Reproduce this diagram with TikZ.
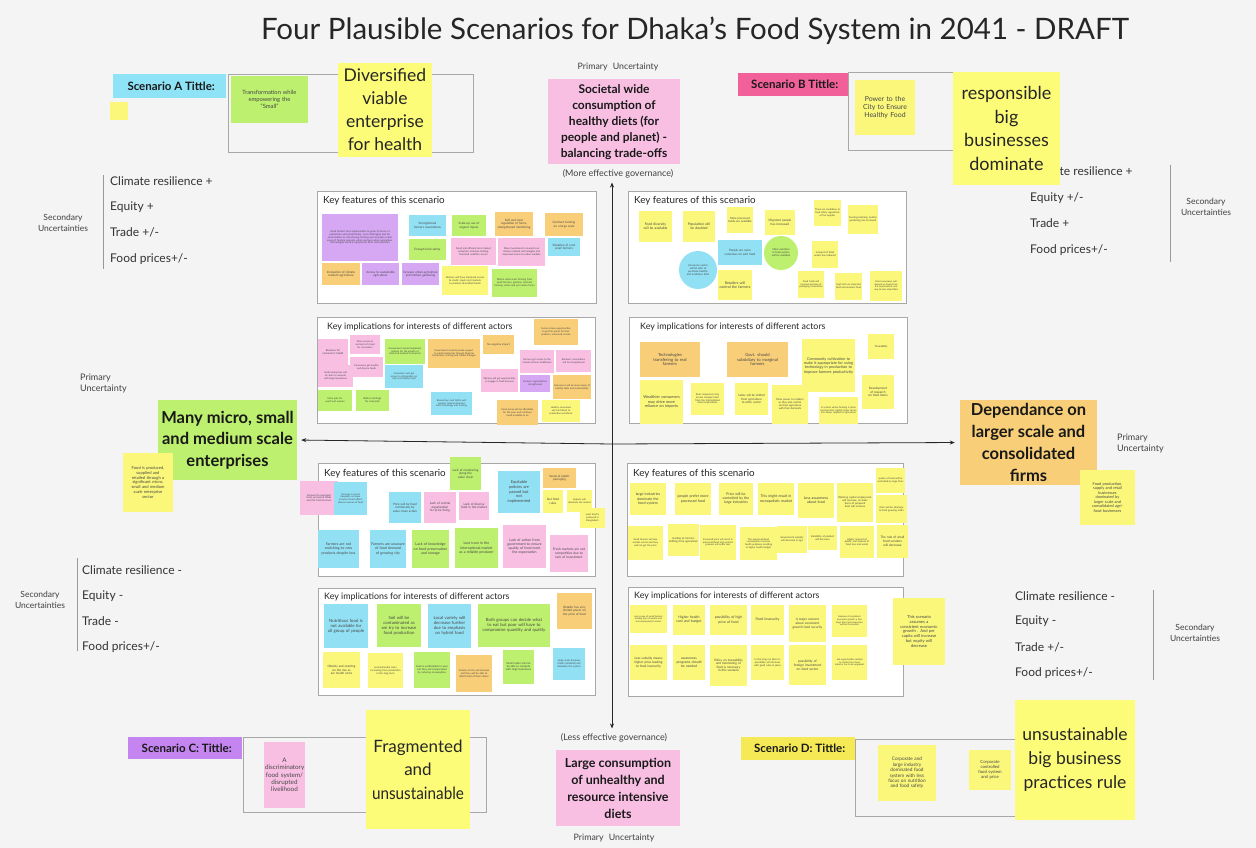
\documentclass[tikz,border=0pt]{standalone}
\usepackage{fontspec}
\setmainfont{Lato}
\usetikzlibrary{arrows.meta}
\definecolor{bg}{HTML}{F4F4F4}
\definecolor{stY}{HTML}{FAF77A}
\definecolor{bigY}{HTML}{FDFC78}
\definecolor{stG}{HTML}{BDF06E}
\definecolor{stC}{HTML}{92E0F4}
\definecolor{stP}{HTML}{F8BFE3}
\definecolor{stO}{HTML}{F8CE78}
\definecolor{stV}{HTML}{D6A8F3}
\definecolor{labA}{HTML}{8EE3F7}
\definecolor{labB}{HTML}{F2609A}
\definecolor{labC}{HTML}{C585F0}
\definecolor{labD}{HTML}{F5EA55}
\definecolor{frameC}{HTML}{A8A8A8}
\tikzset{
  stk/.style={draw=none,inner sep=1pt,align=center,text=black!72},
  big/.style={draw=none,inner sep=0pt,align=center,text=black!85},
  panel/.style={draw=frameC,fill=white,line width=0.8pt,inner sep=0pt},
  sframe/.style={draw=frameC,line width=0.9pt,inner sep=0pt},
  ptitle/.style={anchor=north west,inner sep=0pt,text=black!85},
  lab/.style={anchor=north west,inner sep=0pt,font=\fontsize{11.5}{13}\bfseries,text=black!90},
  sec/.style={anchor=west,inner sep=0pt,font=\fontsize{12}{14}\selectfont,text=black!80},
  secl/.style={inner sep=0pt,align=center,font=\fontsize{8.5}{11}\selectfont,text=black!75},
  prim/.style={inner sep=0pt,align=center,font=\fontsize{8.5}{11}\selectfont,text=black!75},
  ax/.style={draw=black!85,line width=0.8pt,-{Stealth[length=5pt,width=4pt]}},
  vbar/.style={draw=black!40,line width=0.8pt},
}
\newcommand\stk[8]{\node[stk,fill=#2,minimum width=#5pt,minimum height=#6pt,text width=#5pt-2pt,font=\linespread{1.15}\fontsize{#7}{#7}\selectfont] (#1) at ({#3+#5/2},{#4+#6/2}) {#8};}
\newcommand\stc[6]{\node[stk,circle,fill=#2,minimum size=#5pt,text width=#5pt*0.62,font=\linespread{1.15}\fontsize{2.6}{2.6}\selectfont] (#1) at (#3,#4) {#6};}
\begin{document}
\hyphenpenalty=10000 \exhyphenpenalty=10000
\begin{tikzpicture}[x=1pt,y=-1pt]
\fill[bg] (0,0) rectangle (1256,848);
\useasboundingbox (0,0) rectangle (1256,848);

% title
\node[inner sep=0pt,font=\fontsize{29.5}{34}\selectfont,text=black!85] (title) at (695,31) {Four Plausible Scenarios for Dhaka's Food System in 2041 - DRAFT};

% ---------- secondary uncertainties ----------
\node[sec] (sa1) at (110,181) {Climate resilience +};
\node[sec] (sa2) at (110,207) {Equity +};
\node[sec] (sa3) at (110,232) {Trade +/-};
\node[sec] (sa4) at (110,259) {Food prices+/-};
\draw[vbar] (103,175) -- (103,269);
\node[secl] (sal) at (63,223) {Secondary\\Uncertainties};

\node[sec] (sb1) at (1030,171) {Climate resilience +};
\node[sec] (sb2) at (1030,198) {Equity +/-};
\node[sec] (sb3) at (1030,223) {Trade +};
\node[sec] (sb4) at (1030,250) {Food prices+/-};
\draw[vbar] (1170,165) -- (1170,262);
\node[secl] (sbl) at (1206,207) {Secondary\\Uncertainties};

\node[sec] (sc1) at (82,570) {Climate resilience -};
\node[sec] (sc2) at (82,596) {Equity -};
\node[sec] (sc3) at (82,621) {Trade -};
\node[sec] (sc4) at (82,647) {Food prices+/-};
\draw[vbar] (77,558) -- (77,651);
\node[secl] (scl) at (40,600) {Secondary\\Uncertainties};

\node[sec] (sd1) at (1015,596) {Climate resilience -};
\node[sec] (sd2) at (1015,621) {Equity -};
\node[sec] (sd3) at (1015,647) {Trade +/-};
\node[sec] (sd4) at (1015,673) {Food prices+/-};
\draw[vbar] (1153,590) -- (1153,680);
\node[secl] (sdl) at (1195,633) {Secondary\\Uncertainties};

% ---------- scenario titles ----------
\node[lab,fill=labA,minimum width=113pt,minimum height=24pt] (la) at (113,74) {\hspace{3pt}Scenario A Tittle:};
\node[sframe,anchor=north west,minimum width=245pt,minimum height=78pt] (fa) at (228,74) {};
\stk{ya}{stY}{110}{102}{18}{18}{3}{}
\stk{ta}{stG}{231}{76}{77}{47}{5.8}{Transformation while\\empowering the\\``Small''}
\node[big,fill=bigY,minimum width=94pt,minimum height=94pt,font=\fontsize{17.5}{23}\selectfont] (ba) at (385,110) {Diversified\\viable\\enterprise\\for health};

\node[lab,fill=labB,minimum width=110pt,minimum height=23pt] (lb) at (738,73) {\hspace{3pt}Scenario B Tittle:};
\node[sframe,anchor=north west,minimum width=168pt,minimum height=78pt] (fb) at (848,72) {};
\stk{tb}{stY}{855}{80}{60}{55}{6.9}{Power to the\\City to Ensure\\Healthy Food}
\node[big,fill=bigY,minimum width=107pt,minimum height=113pt,font=\fontsize{18}{23.5}\selectfont] (bb) at (1006.5,128.5) {responsible\\big\\businesses\\dominate};

\node[lab,fill=labC,minimum width=114pt,minimum height=22pt] (lc) at (128,737) {\hspace{3pt}Scenario C: Tittle:};
\node[sframe,anchor=north west,minimum width=243pt,minimum height=75pt] (fc) at (243,737) {};
\stk{tc}{stP}{264}{742}{41}{66}{6.3}{A\\discriminatory\\food system/\\disrupted\\livelihood}
\node[big,fill=bigY,minimum width=104pt,minimum height=119pt,font=\fontsize{17}{23.5}\selectfont] (bc) at (418,769.5) {Fragmented\\and\\\scalebox{0.9}[1]{unsustainable}};

\node[lab,fill=labD,minimum width=114pt,minimum height=23pt] (ld) at (741,737) {\hspace{3pt}Scenario D: Tittle:};
\node[sframe,anchor=north west,minimum width=161pt,minimum height=77pt] (fd) at (855,739) {};
\stk{td}{stY}{878}{745}{58}{56}{4.7}{Corporate and\\large industry\\dominated food\\system with less\\focus on nutrition\\and food safety}
\stk{td2}{stY}{969}{750}{42}{40}{4.3}{Corporate\\controlled\\food system\\and price}
\node[big,fill=bigY,minimum width=120pt,minimum height=120pt,font=\fontsize{17.5}{24}\selectfont] (bd) at (1075,760) {unsustainable\\big business\\practices rule};

% ---------- primary uncertainties ----------
\node[prim,font=\fontsize{8.8}{11}\selectfont] (pt) at (618,67) {Primary\hspace{3pt} Uncertainty};
\node[big,fill=stP,minimum width=132pt,minimum height=85pt,font=\fontsize{12}{16}\bfseries,text=black!90] (top) at (614,122) {Societal wide\\consumption of\\healthy diets (for\\people and planet) -\\balancing trade-offs};
\node[prim,font=\fontsize{9}{11}\selectfont] (gtop) at (618,174) {(More effective governance)};

\node[prim,font=\fontsize{9}{11}\selectfont] (gbot) at (614,738) {(Less effective governance)};
\node[big,fill=stP,minimum width=124pt,minimum height=76pt,font=\fontsize{12.5}{17}\bfseries,text=black!90] (bot) at (618,788) {Large consumption\\of unhealthy and\\resource intensive\\diets};
\node[prim,font=\fontsize{8.8}{11}\selectfont] (pb) at (614,838) {Primary\hspace{3pt} Uncertainty};

\node[prim,align=left,anchor=west,font=\fontsize{9}{11}\selectfont] (pl) at (80,383) {Primary\\Uncertainty};
\node[big,fill=stG,minimum width=139pt,minimum height=80pt,font=\fontsize{16.5}{21.5}\bfseries,text=black!90] (left) at (227.5,440) {Many micro, small\\and medium scale\\enterprises};
\stk{nl}{stY}{123}{453}{50}{59}{4.1}{Food is produced,\\supplied and\\retailed through a\\significant micro,\\small and medium\\scale enterprise\\sector}

\node[big,fill=stO,minimum width=137pt,minimum height=85pt,font=\fontsize{16.5}{22}\bfseries,text=black!90] (right) at (1028.5,442.5) {Dependance on\\larger scale and\\consolidated\\firms};
\node[prim,align=left,anchor=west,font=\fontsize{9}{11}\selectfont] (pr) at (1117,443) {Primary\\Uncertainty};
\stk{nr}{stY}{1080}{470}{55}{55}{3.9}{Food production,\\supply and retail\\businesses\\dominated by\\larger scale and\\consolidated agri-\\food businesses}

% ---------- panels ----------
\node[panel,anchor=north west,minimum width=279pt,minimum height=112pt] (p1) at (317,191) {};
\node[ptitle,font=\fontsize{9.8}{11}\selectfont] at (323,196) {Key features of this scenario};
\node[panel,anchor=north west,minimum width=278pt,minimum height=106pt] (p2) at (317,317) {};
\node[ptitle,font=\fontsize{8.9}{10}\selectfont] at (327,323) {Key implications for interests of different actors};
\node[panel,anchor=north west,minimum width=278pt,minimum height=112pt] (p3) at (628,191) {};
\node[ptitle,font=\fontsize{9.8}{11}\selectfont] at (634,196) {Key features of this scenario};
\node[panel,anchor=north west,minimum width=278pt,minimum height=106pt] (p4) at (629,317) {};
\node[ptitle,font=\fontsize{8.9}{10}\selectfont] at (640,323) {Key implications for interests of different actors};
\node[panel,anchor=north west,minimum width=277pt,minimum height=113pt] (p5) at (318,463) {};
\node[ptitle,font=\fontsize{9.8}{11}\selectfont] at (324,469) {Key features of this scenario};
\node[panel,anchor=north west,minimum width=277pt,minimum height=107pt] (p6) at (318,588) {};
\node[ptitle,font=\fontsize{8.9}{10}\selectfont] at (324,593) {Key implications for interests of different actors};
\node[panel,anchor=north west,minimum width=276pt,minimum height=113pt] (p7) at (627,463) {};
\node[ptitle,font=\fontsize{9.8}{11}\selectfont] at (633,469) {Key features of this scenario};
\node[panel,anchor=north west,minimum width=275pt,minimum height=109pt] (p8) at (628,587) {};
\node[ptitle,font=\fontsize{8.9}{10}\selectfont] at (634,592) {Key implications for interests of different actors};

% ---------- Q1 features ----------
\stk{a1}{stV}{322}{214}{76}{47}{2.5}{Small farmers face opportunities to grow (in terms of production and productivity). Less challenging task for small holders as risk-sharing, farming and crop plan under areas of farming promote urban and peri-urban agriculture. Technologies (vertical equipment) Farm mechanization}
\stk{a2}{stC}{409}{215}{37}{21}{3}{Strengthened farmers associations}
\stk{a3}{stG}{452}{215}{34}{21}{3}{Scale-up use of organic inputs}
\stk{a4}{stO}{495}{212}{38}{24}{3}{Soft and clear regulation of farms, strengthened monitoring}
\stk{a5}{stO}{545}{213}{38}{23}{3}{Contract farming on a large scale}
\stk{a6}{stG}{409}{239}{37}{21}{3}{Enough food safety}
\stk{a7}{stP}{451}{238}{45}{27}{2.5}{Small and efficient local market networks; inclusive lending; food and nutrition secure}
\stk{a8}{stP}{498}{238}{47}{28}{2.5}{More investment in research on climate resilient technologies and improved access to urban markets}
\stk{a9}{stC}{548}{238}{32}{18}{3}{Situation of rural small farmers}
\stk{a10}{stO}{322}{263}{38}{22}{3}{Innovation of climate resilient agriculture}
\stk{a11}{stV}{362}{263}{37}{22}{3}{Access to sustainable agriculture}
\stk{a12}{stV}{402}{263}{37}{22}{3}{Increase urban agriculture and kitchen gardening}
\stk{a13}{stY}{442}{266}{46}{29}{2.5}{Farmers will have improved access to credit, inputs and markets to produce diversified foods}
\stk{a14}{stG}{492}{269}{45}{28}{2.5}{Where small-scale farming from small farmers, gardens, contract farming, urban and peri urban farms}

% ---------- Q1 implications ----------
\stk{b1}{stP}{318}{339}{30}{26}{2.6}{Business for consumers' health}
\stk{b2}{stP}{350}{335}{30}{19}{2.4}{More access of nutrient-rich food for consumers}
\stk{b3}{stG}{385}{339}{40}{25}{2.4}{Government should implement policies for the growth of small and medium enterprises}
\stk{b4}{stO}{428}{339}{52}{29}{2.4}{Government should provide support to small enterprises through financial institutions, training and market linkages}
\stk{b5}{stO}{483}{335}{31}{19}{2.6}{No negative impact}
\stk{b6}{stO}{534}{319}{44}{26}{2.4}{Farmers have opportunities to get fair prices for their products, enhanced income}
\stk{b7}{stP}{350}{357}{33}{20}{2.4}{Consumers get healthy and diverse foods}
\stk{b8}{stP}{318}{365}{35}{22}{2.4}{Small enterprises will be able to compete with large businesses}
\stk{b9}{stC}{385}{365}{38}{23}{2.4}{Consumers will get access to information on safe and healthy food}
\stk{b10}{stP}{481}{369}{37}{23}{2.4}{Women will get opportunities to engage in food business}
\stk{b11}{stP}{520}{350}{34}{23}{2.4}{Farmers get access to the market without middlemen}
\stk{b12}{stP}{556}{350}{35}{22}{2.4}{Retailers' associations will be strengthened}
\stk{b13}{stV}{520}{375}{30}{17}{2.4}{Farmers' organizations strengthened}
\stk{b14}{stO}{553}{375}{38}{24}{2.4}{Consumers will be more aware of healthy diets and sustainability}
\stk{b15}{stG}{318}{390}{34}{21}{2.4}{More jobs for youth and women}
\stk{b16}{stG}{356}{390}{33}{21}{2.6}{Better earnings for everyone}
\stk{b17}{stC}{431}{392}{41}{23}{2.4}{Researchers and NGOs will support small enterprises with technology and training}
\stk{b18}{stO}{497}{400}{41}{25}{2.4}{Food prices will be affordable for the poor and nutritious foods available to all}
\stk{b19}{stY}{542}{400}{38}{22}{2.4}{Healthy consumers will contribute to productive workforce}

% ---------- Q2 features ----------
\stk{c1}{stY}{639}{211}{33}{31}{3.4}{Food diversity will be available}
\stk{c2}{stY}{683}{211}{32}{31}{3.4}{Population will be doubled}
\stk{c3}{stY}{727}{207}{26}{26}{2.8}{More processed foods are available}
\stk{c4}{stY}{765}{210}{30}{25}{3.1}{Migrated people has increased}
\stk{c5}{stY}{814}{200}{27}{26}{2.4}{There are conditions to food safety regulations of the supplier}
\stk{c6}{stY}{848}{205}{30}{29}{2.5}{Social gendering; routine gendering has increased}
\stc{c7}{stC}{698}{270}{38}{Consumer sector will be able to purchase healthy and nutritious food}
\stk{c8}{stC}{718}{240}{44}{25}{3}{People are more conscious on safe food}
\stc{c9}{stG}{781}{253}{34}{More nutrition in food system will be available}
\stk{c10}{stY}{812}{241}{26}{27}{2.6}{amount of food waste has reduced}
\stk{c11}{stY}{718}{270}{34}{30}{3.6}{Retailers will control the farmers}
\stk{c12}{stY}{798}{271}{26}{27}{2.4}{Food trade will increase because of packaging innovations}
\stk{c13}{stY}{835}{273}{27}{27}{2.4}{High tech on imported food and business food}
\stk{c14}{stY}{870}{271}{32}{30}{2.3}{Most consumers will depend on foods from the supermarkets and may be less diversified}

% ---------- Q2 implications ----------
\stk{d1}{stO}{640}{342}{60}{35}{4.2}{Technologies\\transfering to real\\farmers}
\stk{d2}{stO}{727}{342}{61}{35}{4.2}{Govt. should\\subsidiary to marginal\\farmers}
\stk{d3}{stY}{802}{339}{53}{53}{3.8}{Community cultivation to make it appropriate for using technology in production to improve farmers productivity}
\stk{d4}{stY}{868}{334}{26}{25}{2.6}{Traceability}
\stk{d5}{stY}{640}{380}{43}{44}{3.9}{Wealthier consumers may drive more reliance on imports}
\stk{d6}{stY}{691}{383}{33}{32}{2.5}{Poor consumers may access cheaper food from the international food corporations}
\stk{d7}{stY}{735}{383}{33}{32}{2.9}{Labor will be shifted from agriculture to other sector}
\stk{d8}{stY}{772}{385}{36}{39}{2.6}{More power to retailers as they also control contract agriculture with their demands}
\stk{d9}{stY}{819}{397}{39}{27}{2.4}{A system where farming is more concentrated, slightly larger farms, less labour applied to agriculture}
\stk{d10}{stY}{862}{375}{32}{34}{3.1}{Development of research on food items}

% ---------- Q3 features ----------
\stk{e1}{stP}{300}{481}{38}{34}{2.5}{Demand to packaged food, processed foods and fast food increase}
\stk{e2}{stC}{334}{482}{33}{33}{2.4}{Increase in social inequality as lower income cannot afford diverse sources of food}
\stk{e3}{stG}{450}{457}{31}{33}{3.1}{Lack of monitoring along the value chain}
\stk{e4}{stC}{498}{471}{42}{42}{4}{Equitable\\policies are\\passed but\\not\\implemented}
\stk{e5}{stO}{543}{468}{33}{20}{2.9}{Seeds of plastic packaging}
\stk{e6}{stY}{543}{490}{20}{23}{3.1}{fast food rules}
\stk{e7}{stY}{567}{490}{25}{22}{2.4}{Imports will dominate the market}
\stk{e8}{stY}{580}{508}{25}{20}{2.4}{most food is produced in Bangladesh}
\stk{e9}{stC}{389}{492}{32}{31}{3}{Price will be fixed intrinsically by value chain action}
\stk{e10}{stP}{424}{492}{32}{31}{3.1}{Lack of central organization for price fixing}
\stk{e11}{stP}{459}{492}{30}{28}{3.1}{Lack of diverse food in the market}
\stk{e12}{stC}{318}{530}{41}{38}{3.6}{Farmers are not switching to new products despite loss}
\stk{e13}{stC}{370}{530}{36}{38}{3.6}{Farmers are unaware of food demand of growing city}
\stk{e14}{stG}{412}{530}{37}{38}{3.6}{Lack of knowledge on food preservation and storage}
\stk{e15}{stG}{455}{528}{43}{40}{3.6}{Lost trust in the international market as a reliable producer}
\stk{e16}{stP}{503}{525}{43}{43}{3.5}{Lack of action from government to ensure quality of food meet the expectation}
\stk{e17}{stP}{550}{535}{38}{37}{3.3}{Fresh markets are not competitive due to lack of investment}

% ---------- Q3 implications ----------
\stk{f1}{stC}{324}{604}{44}{44}{4.3}{Nutritious food is not available for all group of people}
\stk{f2}{stG}{377}{604}{44}{43}{4.3}{Soil will be contaminated as we try to increase food production}
\stk{f3}{stC}{428}{604}{43}{44}{4.3}{Local variety will decrease further due to emphasis on hybrid food}
\stk{f4}{stG}{478}{604}{72}{43}{4.3}{Both groups can decide what to eat but poor will have to compromise quantity and quality}
\stk{f5}{stO}{557}{593}{35}{36}{3}{Retailer has very limited power on the price of food}
\stk{f6}{stY}{323}{652}{37}{36}{3}{Obesity and stunting on the rise as are health costs}
\stk{f7}{stY}{368}{653}{35}{35}{2.5}{environmental costs increasing from production in the long term}
\stk{f8}{stG}{414}{652}{36}{36}{2.5}{Food is unaffordable to poor and they will compensated by reducing consumption}
\stk{f9}{stO}{456}{655}{36}{37}{2.5}{Income of rich will increase and they will be able to afford food of their choice}
\stk{f10}{stG}{503}{650}{31}{34}{2.7}{Small trader will not be able to compete with large businesses}
\stk{f11}{stC}{553}{648}{32}{32}{2.5}{Large scale business holder (landlord) will dominate the system}

% ---------- Q4 features ----------
\stk{g1}{stY}{630}{483}{36}{32}{3.6}{large industries dominate the food system}
\stk{g2}{stY}{675}{483}{36}{32}{3.6}{people prefer more processed food}
\stk{g3}{stY}{719}{483}{34}{32}{3.5}{Price will be controlled by the large industries}
\stk{g4}{stY}{758}{483}{36}{32}{3.6}{This might result in monopolistic market}
\stk{g5}{stY}{798}{483}{36}{35}{3.6}{Less awareness about food}
\stk{g6}{stY}{837}{483}{36}{39}{2.6}{Working capital employment will increase, on basic items of prepared food will increase}
\stk{g7}{stY}{876}{468}{29}{25}{2.4}{quality of food will be controlled by large firms}
\stk{g8}{stY}{876}{495}{31}{28}{2.5}{their will be shortage to feed growing order}
\stk{g9}{stY}{628}{526}{35}{34}{2.4}{Small farmers will lose market access and they will not get the price}
\stk{g10}{stY}{668}{524}{31}{32}{2.7}{leading to farmers shifting from agriculture}
\stk{g11}{stY}{700}{525}{36}{35}{2.4}{Increased price will result in processed food and contract growers will suffer loss}
\stk{g12}{stY}{740}{527}{37}{33}{2.4}{The processed food consumption increase health problems resulting in higher health budget}
\stk{g13}{stY}{777}{526}{30}{27}{2.5}{Government subsidy will decrease in agri}
\stk{g14}{stY}{808}{526}{29}{24}{2.5}{Variability of product will decrease}
\stk{g15}{stY}{840}{526}{34}{32}{2.5}{Higher amount of plastic and amount of food loss and waste}
\stk{g16}{stY}{877}{525}{31}{33}{3.2}{The role of small food vendors will decrease}

% ---------- Q4 implications ----------
\stk{h1}{stY}{630}{605}{37}{28}{2.3}{Less scope of small farmers leading loss of wealth and lost employment income}
\stk{h2}{stY}{673}{605}{32}{30}{3.5}{Higher health cost and budget}
\stk{h3}{stY}{710}{605}{37}{30}{3.5}{possibility of high price of food}
\stk{h4}{stY}{751}{605}{33}{30}{3.5}{Food insecurity}
\stk{h5}{stY}{789}{605}{37}{37}{3.2}{A major concern about consistent growth food security}
\stk{h6}{stY}{832}{605}{35}{32}{2.3}{Absence of consistent economic growth; a few large firms and companies will be the leaders}
\stk{h7}{stY}{630}{645}{37}{35}{3.2}{Less subsidy means higher price leading to food insecurity}
\stk{h8}{stY}{673}{645}{32}{35}{3.4}{awareness programs should be needed}
\stk{h9}{stY}{710}{645}{37}{41}{3.1}{Policy on traceability and monitoring of food is necessary in this scenario}
\stk{h10}{stY}{751}{645}{33}{35}{2.5}{In the long run there is possibility will increase with good rules in place}
\stk{h11}{stY}{789}{645}{37}{40}{3.3}{possibility of foreign investment on food sector}
\stk{h12}{stY}{832}{645}{35}{35}{2.3}{Job opportunities related to rentals from food industry has to be upgraded}
\stk{i1}{stY}{893}{598}{52}{67}{4.1}{This scenario\\assumes a\\consistent economic\\growth . And per\\capita will increase\\but equity will\\decrease}

% ---------- axes ----------
\coordinate (o) at (612,444);
\draw[ax,shorten >=4pt] (o) -- (gtop.south -| o);
\draw[ax,shorten >=5pt] (o) -- (gbot.north -| o);
\draw[ax,shorten >=4pt] (o) -- (left.east);
\draw[ax,shorten >=5pt] (o) -- (right.west);
\end{tikzpicture}
\end{document}
